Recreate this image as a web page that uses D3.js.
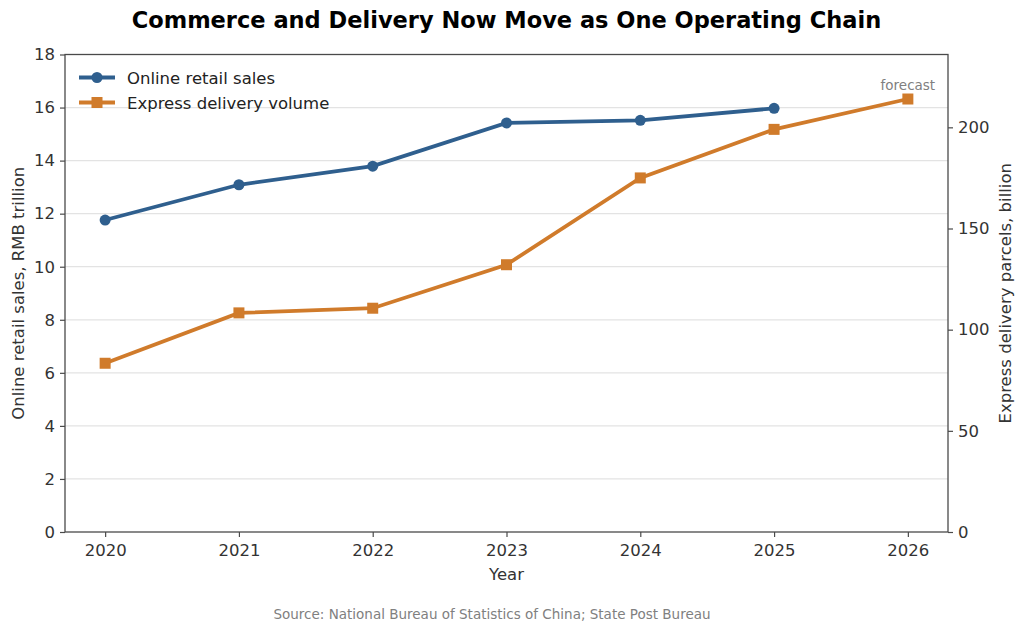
<!DOCTYPE html>
<html>
<head>
<meta charset="utf-8">
<script src="https://cdn.jsdelivr.net/npm/d3@7"></script>
<style>
  body { margin: 0; background: #fff; }
  svg { font-family: "DejaVu Sans", sans-serif; }
</style>
</head>
<body>
<svg id="chart" width="1024" height="632"></svg>
<script>
const years = [2020, 2021, 2022, 2023, 2024, 2025, 2026];
const retailYears = [2020, 2021, 2022, 2023, 2024, 2025];
const retailSales = [11.76, 13.09, 13.79, 15.42, 15.52, 15.97];
const expressVolume = [83.4, 108.3, 110.6, 132.1, 175.0, 199.0, 214.0];
const leftTicks = [0, 2, 4, 6, 8, 10, 12, 14, 16, 18];
const rightTicks = [0, 50, 100, 150, 200];

const margin = { top: 54.5, right: 76, bottom: 100, left: 65 };
const W = 1024, H = 632;
const width = W - margin.left - margin.right;
const height = H - margin.top - margin.bottom;

const blue = '#2f5f8e', orange = '#d07b2b', axisColor = '#4a4a4a', textColor = '#333';

const svg = d3.select('#chart');
const g = svg.append('g').attr('transform', `translate(${margin.left},${margin.top})`);

const x = d3.scaleLinear().domain([2019.7, 2026.3]).range([0, width]);
const yL = d3.scaleLinear().domain([0, 18]).range([height, 0]);
const yR = d3.scaleLinear().domain([0, 236]).range([height, 0]);

// Title
svg.append('text')
    .attr('x', margin.left + width / 2).attr('y', 28)
    .attr('text-anchor', 'middle')
    .attr('font-size', '22.5px').attr('font-weight', 'bold').attr('fill', '#000')
    .text('Commerce and Delivery Now Move as One Operating Chain');

// Grid
g.append('g')
    .selectAll('line').data(leftTicks.slice(1, -1)).enter().append('line')
    .attr('x1', 0).attr('x2', width)
    .attr('y1', d => yL(d)).attr('y2', d => yL(d))
    .attr('stroke', '#e3e3e3').attr('stroke-width', 1.2);

// Axes
const styleAxis = sel => {
    sel.select('.domain').remove();
    sel.selectAll('line').attr('stroke', axisColor).attr('stroke-width', 1.2);
    sel.selectAll('text').attr('fill', textColor).attr('font-size', '16.5px')
        .attr('font-family', '"DejaVu Sans", sans-serif');
};
g.append('g').attr('transform', `translate(0,${height})`)
    .call(d3.axisBottom(x).tickValues(years).tickFormat(d3.format('d')).tickSize(5).tickPadding(7))
    .call(styleAxis);
g.append('g')
    .call(d3.axisLeft(yL).tickValues(leftTicks).tickSize(5).tickPadding(5))
    .call(styleAxis);
g.append('g').attr('transform', `translate(${width},0)`)
    .call(d3.axisRight(yR).tickValues(rightTicks).tickSize(5).tickPadding(5))
    .call(styleAxis);

// Frame
g.append('rect').attr('width', width).attr('height', height)
    .attr('fill', 'none').attr('stroke', axisColor).attr('stroke-width', 1.3);

// Lines
const retail = retailYears.map((yr, i) => ({ yr, v: retailSales[i] }));
const express = years.map((yr, i) => ({ yr, v: expressVolume[i] }));

g.append('path').datum(express)
    .attr('fill', 'none').attr('stroke', orange).attr('stroke-width', 3.8)
    .attr('d', d3.line().x(d => x(d.yr)).y(d => yR(d.v)));
g.selectAll('.sq').data(express).enter().append('rect')
    .attr('x', d => x(d.yr) - 5.5).attr('y', d => yR(d.v) - 5.5)
    .attr('width', 11).attr('height', 11).attr('fill', orange);

g.append('path').datum(retail)
    .attr('fill', 'none').attr('stroke', blue).attr('stroke-width', 3.8)
    .attr('d', d3.line().x(d => x(d.yr)).y(d => yL(d.v)));
g.selectAll('.dot').data(retail).enter().append('circle')
    .attr('cx', d => x(d.yr)).attr('cy', d => yL(d.v))
    .attr('r', 5.5).attr('fill', blue);

// Forecast note
const last = express[express.length - 1];
g.append('text')
    .attr('x', x(last.yr)).attr('y', yR(last.v) - 9)
    .attr('text-anchor', 'middle').attr('font-size', '13.5px').attr('fill', '#808080')
    .text('forecast');

// Legend
const legend = g.append('g').attr('transform', 'translate(14,23)');
[{ label: 'Online retail sales', color: blue, shape: 'circle' },
 { label: 'Express delivery volume', color: orange, shape: 'square' }].forEach((item, i) => {
    const row = legend.append('g').attr('transform', `translate(0,${i * 25})`);
    row.append('line').attr('x1', 0).attr('x2', 36).attr('stroke', item.color).attr('stroke-width', 3.8);
    if (item.shape === 'circle') row.append('circle').attr('cx', 18).attr('r', 5.5).attr('fill', item.color);
    else row.append('rect').attr('x', 12.5).attr('y', -5.5).attr('width', 11).attr('height', 11).attr('fill', item.color);
    row.append('text').attr('x', 48).attr('y', 6).attr('font-size', '16.5px').attr('fill', '#222').text(item.label);
});

// Axis labels
svg.append('text')
    .attr('x', margin.left + width / 2).attr('y', 580)
    .attr('text-anchor', 'middle').attr('font-size', '16.5px').attr('fill', textColor)
    .text('Year');
svg.append('text')
    .attr('transform', `translate(24,${margin.top + height / 2}) rotate(-90)`)
    .attr('text-anchor', 'middle').attr('font-size', '16.5px').attr('fill', textColor)
    .text('Online retail sales, RMB trillion');
svg.append('text')
    .attr('transform', `translate(1011,${margin.top + height / 2}) rotate(-90)`)
    .attr('text-anchor', 'middle').attr('font-size', '16.5px').attr('fill', textColor)
    .text('Express delivery parcels, billion');

// Source
svg.append('text')
    .attr('x', 492).attr('y', 619)
    .attr('text-anchor', 'middle').attr('font-size', '13.5px').attr('fill', '#808080')
    .text('Source: National Bureau of Statistics of China; State Post Bureau');
</script>
</body>
</html>
